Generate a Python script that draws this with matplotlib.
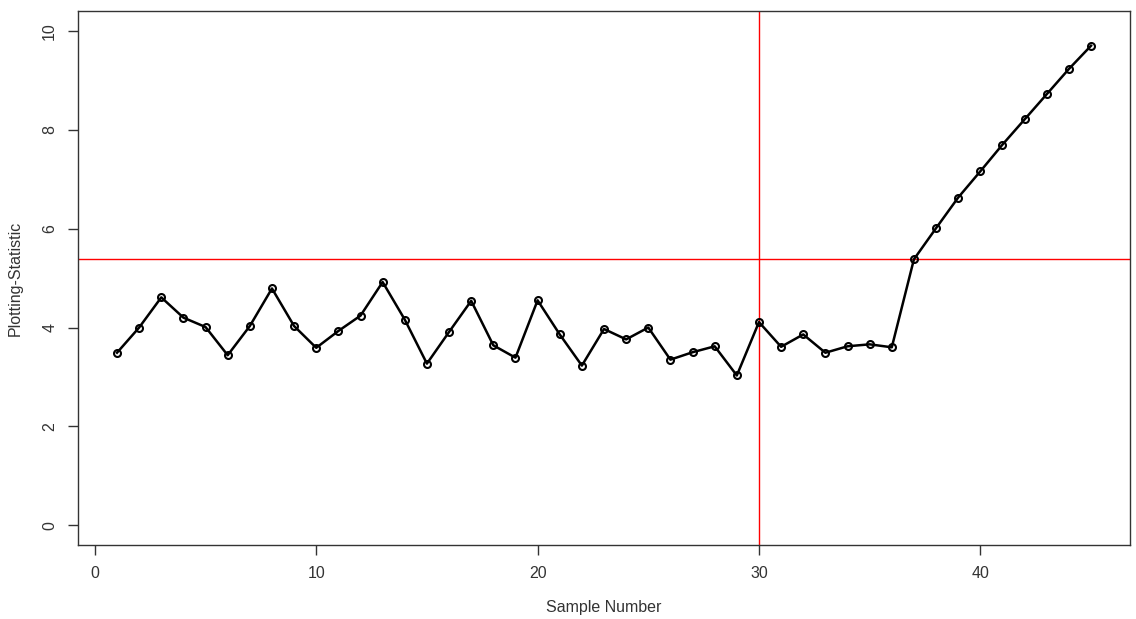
import numpy as np
import matplotlib
matplotlib.use("Agg")
import matplotlib.pyplot as plt

plt.rcParams['font.family'] = ['Liberation Sans', 'DejaVu Sans']

# valores
sample = np.arange(1, 46)
statistic = [3.49, 4.00, 4.61, 4.20, 4.01, 3.44, 4.03, 4.79, 4.03, 3.59,
             3.93, 4.24, 4.92, 4.16, 3.27, 3.91, 4.54, 3.64, 3.39, 4.55,
             3.86, 3.23, 3.97, 3.76, 4.00, 3.35, 3.50, 3.62, 3.03, 4.11,
             3.61, 3.86, 3.49, 3.62, 3.66, 3.60, 5.38, 6.01, 6.63, 7.16,
             7.70, 8.21, 8.72, 9.23, 9.70]
limit = 5.39
change_point = 30
x_ticks = [0, 10, 20, 30, 40]
y_ticks = [0, 2, 4, 6, 8, 10]

fig = plt.figure(figsize=(11.36, 6.19), dpi=100)
ax = fig.add_axes([0.0687, 0.1195, 0.926, 0.8625])

ax.plot(sample, statistic, color='black', linewidth=1.8, marker='o',
        markersize=5, markerfacecolor='none', markeredgewidth=1.5, zorder=3)
ax.axhline(limit, color='red', linewidth=1)
ax.axvline(change_point, color='red', linewidth=1)

# limites no estilo do R (4% de folga)
ax.set_xlim(1 - 0.04 * 44, 45 + 0.04 * 44)
ax.set_ylim(-0.4, 10.4)
ax.set_xticks(x_ticks)
ax.set_yticks(y_ticks)
ax.set_yticklabels([str(v) for v in y_ticks], rotation=90, va='center')

ax.tick_params(direction='out', length=7, width=1, colors='#333333',
               labelsize=11.5, pad=8)
for s in ax.spines.values():
    s.set_color('#333333')
    s.set_linewidth(1)

ax.set_xlabel("Sample Number", fontsize=11.5, color='#333333', labelpad=14)
ax.set_ylabel("Plotting-Statistic", fontsize=11.5, color='#333333', labelpad=14)

fig.savefig("out.png", dpi=100)
